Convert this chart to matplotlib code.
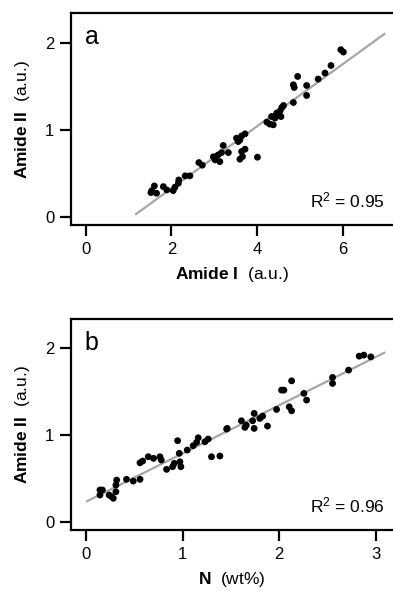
import numpy as np
import matplotlib
matplotlib.use("Agg")
import matplotlib.pyplot as plt

plt.rcParams['font.family'] = ['Liberation Sans', 'DejaVu Sans']
plt.rcParams['mathtext.fontset'] = 'custom'
plt.rcParams['mathtext.rm'] = 'Liberation Sans'
plt.rcParams['mathtext.bf'] = 'Liberation Sans:bold'
plt.rcParams['mathtext.it'] = 'Liberation Sans:italic'

# Panel a: Amide I vs Amide II
amide1 = [1.54, 1.60, 1.65, 1.52, 1.81, 1.89, 2.04, 2.08, 2.16, 2.17, 2.32, 2.43,
          2.64, 2.72, 2.98, 3.02, 3.09, 3.13, 3.17, 3.21, 3.33, 3.52, 3.60, 3.64,
          3.72, 3.56, 3.64, 3.72, 3.60, 3.66, 4.01, 4.23, 4.30, 4.38, 4.34, 4.42,
          4.46, 4.50, 4.54, 4.58, 4.62, 4.56, 4.85, 5.16, 5.16, 4.87, 4.85, 4.95,
          5.43, 5.59, 5.73, 5.96, 6.02]
amide2_a = [0.30, 0.354, 0.27, 0.277, 0.346, 0.308, 0.30, 0.339, 0.385, 0.423, 0.47, 0.47,
            0.623, 0.593, 0.69, 0.654, 0.711, 0.634, 0.738, 0.82, 0.738, 0.904, 0.885, 0.93,
            0.954, 0.865, 0.75, 0.777, 0.662, 0.692, 0.685, 1.089, 1.066, 1.058, 1.153, 1.135,
            1.193, 1.173, 1.219, 1.257, 1.28, 1.153, 1.315, 1.396, 1.511, 1.488, 1.519, 1.615,
            1.585, 1.654, 1.741, 1.923, 1.896]
fit_range_a = [1.15, 7.0]
r2_a = "0.95"

# Panel b: N (wt%) vs Amide II
nitrogen = [0.145, 0.17, 0.145, 0.24, 0.266, 0.283, 0.31, 0.31, 0.318, 0.42, 0.49, 0.56,
            0.56, 0.587, 0.645, 0.70, 0.766, 0.78, 0.835, 0.897, 0.914, 0.973, 0.983, 0.966,
            0.949, 1.049, 1.11, 1.146, 1.163, 1.232, 1.266, 1.30, 1.387, 1.457, 1.463, 1.61,
            1.646, 1.66, 1.726, 1.742, 1.80, 1.83, 1.742, 1.88, 1.974, 2.026, 2.05, 2.13,
            2.105, 2.13, 2.257, 2.285, 2.554, 2.554, 2.72, 2.83, 2.878, 2.95]
amide2_b = [0.366, 0.366, 0.308, 0.308, 0.289, 0.27, 0.346, 0.423, 0.48, 0.489, 0.469, 0.489,
            0.68, 0.70, 0.75, 0.731, 0.75, 0.712, 0.604, 0.635, 0.673, 0.692, 0.635, 0.789,
            0.935, 0.827, 0.877, 0.916, 0.969, 0.923, 0.954, 0.75, 0.758, 1.069, 1.077, 1.165,
            1.089, 1.115, 1.165, 1.25, 1.192, 1.219, 1.077, 1.104, 1.296, 1.519, 1.519, 1.626,
            1.326, 1.28, 1.481, 1.404, 1.665, 1.596, 1.75, 1.911, 1.923, 1.903]
fit_range_b = [0.0, 3.1]
r2_b = "0.96"

W, H = 393, 591
fig = plt.figure(figsize=(W / 100, H / 100), dpi=100)

def make_panel(rect, x, y, fit_range, r2, letter, xticks, xlim, xlabel_bold, xlabel_unit):
    ax = fig.add_axes(rect)
    x = np.asarray(x); y = np.asarray(y)
    m, c = np.polyfit(x, y, 1)
    xf = np.array(fit_range)
    ax.plot(xf, m * xf + c, color='#a6a6a6', lw=1.6, zorder=1, solid_capstyle='butt')
    ax.scatter(x, y, s=24, color='black', edgecolors='none', zorder=2)
    ax.set_xlim(*xlim)
    ax.set_ylim(-0.096, 2.34)
    ax.set_xticks(xticks)
    ax.set_yticks([0, 1, 2])
    for side in ['left', 'bottom', 'top']:
        ax.spines[side].set_linewidth(1.6)
    ax.spines['right'].set_visible(False)
    ax.tick_params(direction='out', length=8, width=1.6, labelsize=12, pad=4,
                   top=False, right=False)
    ax.set_xlabel(r"$\bf{" + xlabel_bold + r"}$  " + xlabel_unit, fontsize=12.5, labelpad=6)
    ax.set_ylabel(r"$\bf{Amide\ II}$  (a.u.)", fontsize=12.5, labelpad=9)
    ax.text(0.043, 0.945, letter, transform=ax.transAxes, fontsize=18, va='top', ha='left')
    ax.text(0.975, 0.085, r"R$^2$ = " + r2, transform=ax.transAxes, fontsize=12.5,
            ha='right', va='baseline')
    return ax

make_panel([71 / W, 1 - 225 / H, 322 / W, 211.5 / H], amide1, amide2_a, fit_range_a, r2_a,
           'a', [0, 2, 4, 6], (-0.35, 7.18), r"Amide\ I", "(a.u.)")
make_panel([71 / W, 1 - 530 / H, 322 / W, 211 / H], nitrogen, amide2_b, fit_range_b, r2_b,
           'b', [0, 1, 2, 3], (-0.155, 3.18), r"N", "(wt%)")

fig.savefig("out.png", dpi=100)
